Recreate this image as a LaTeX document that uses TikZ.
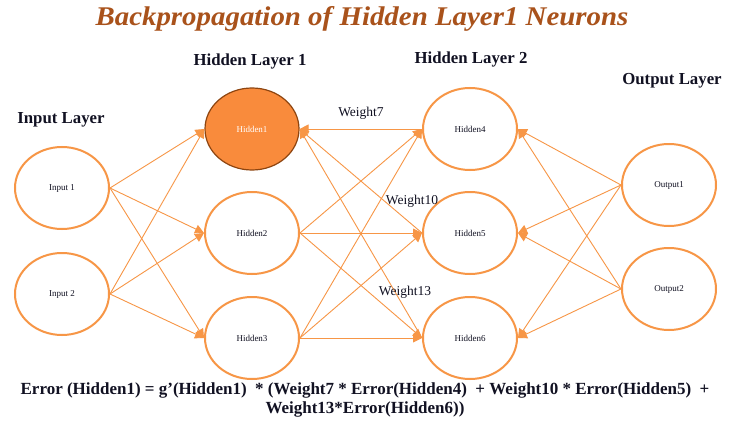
\documentclass[tikz,border=0pt]{standalone}
\usepackage{fontspec}
\setmainfont{Liberation Serif}
\usetikzlibrary{shapes.geometric,arrows.meta}
\definecolor{org}{HTML}{F79646}
\definecolor{hfill}{HTML}{F98B3C}
\definecolor{hdraw}{HTML}{8E4510}
\definecolor{ttl}{HTML}{A9521B}
\definecolor{txt}{HTML}{111122}
\begin{document}
\begin{tikzpicture}[x=1pt,y=-1pt,
  neuron/.style={ellipse, draw=org, line width=2pt, fill=white, minimum width=94pt, minimum height=82pt, inner sep=0pt, text=txt, font=\fontsize{9}{10}\selectfont},
  active/.style={neuron, draw=hdraw, line width=1.2pt, fill=hfill, text=white},
  conn/.style={draw=org, line width=0.9pt, -{Triangle[length=9pt,width=9pt]}},
  layer/.style={text=txt, inner sep=0pt, font=\bfseries\fontsize{16.8}{18}\selectfont},
  wlabel/.style={text=txt, inner sep=0pt, font=\fontsize{13.5}{15}\selectfont}]
\useasboundingbox[fill=white] (0,0) rectangle (732,431);

% title
\node[text=ttl, inner sep=0pt, font=\bfseries\itshape\fontsize{27}{30}\selectfont] (title) at (362,19) {\scalebox{1.07}[1]{Backpropagation of Hidden Layer1 Neurons}};

% layer labels
\node[layer] (linput) at (61,120) {Input Layer};
\node[layer] (lh1) at (250,61) {Hidden Layer 1};
\node[layer] (lh2) at (471,59) {Hidden Layer 2};
\node[layer] (lout) at (672,81) {Output Layer};

% neurons
\node[neuron] (in1) at (62,188) {Input 1};
\node[neuron] (in2) at (62,294) {Input 2};
\node[active] (h1) at (252,129) {Hidden1};
\node[neuron] (h2) at (252,233) {Hidden2};
\node[neuron] (h3) at (252,338) {Hidden3};
\node[neuron] (h4) at (470,129) {Hidden4};
\node[neuron] (h5) at (470,233) {Hidden5};
\node[neuron] (h6) at (470,338) {Hidden6};
\node[neuron] (o1) at (669,185) {Output1};
\node[neuron] (o2) at (669,289) {Output2};

% input -> hidden layer 1
\foreach \s in {in1,in2}
  \foreach \t in {h1,h2,h3}
    \draw[conn] (\s.east) -- (\t.west);

% hidden layer 1 -> hidden layer 2
\foreach \s in {h2,h3}
  \foreach \t in {h4,h5,h6}
    \draw[conn] (\s.east) -- (\t.west);

% backpropagation to Hidden1
\foreach \s in {h4,h5,h6}
  \draw[conn] (\s.west) -- (h1.east);

% output -> hidden layer 2
\foreach \s in {o1,o2}
  \foreach \t in {h4,h5,h6}
    \draw[conn] (\s.west) -- (\t.east);

% weight labels
\node[wlabel] (w7) at (361,113) {Weight7};
\node[wlabel] (w10) at (412,201) {Weight10};
\node[wlabel] (w13) at (405,292) {Weight13};

% formula
\node[text=txt, align=center, inner sep=0pt, font=\bfseries\fontsize{17}{18.5}\selectfont] (err) at (365,400)
  {Error (Hidden1) = g’(Hidden1) \ * (Weight7 * Error(Hidden4) \ + Weight10 * Error(Hidden5) \ +\\
   Weight13*Error(Hidden6))};
\end{tikzpicture}
\end{document}
